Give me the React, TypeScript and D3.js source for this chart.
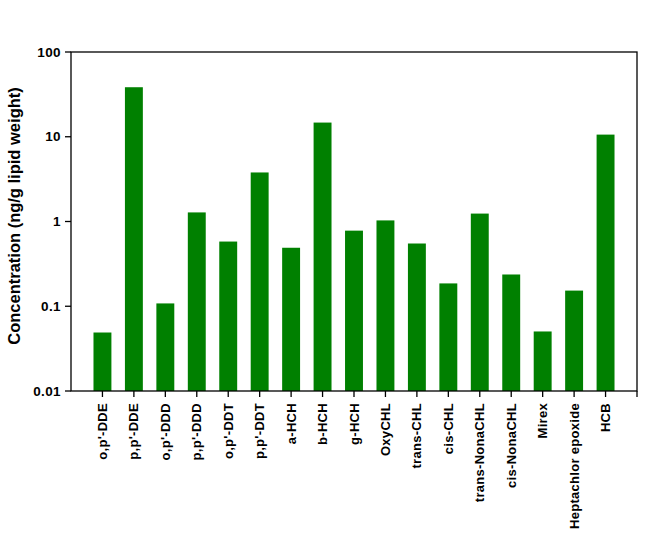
import React from "react";
import * as d3 from "d3";

const categories = [
  "o,p'-DDE", "p,p'-DDE", "o,p'-DDD", "p,p'-DDD", "o,p'-DDT", "p,p'-DDT",
  "a-HCH", "b-HCH", "g-HCH", "OxyCHL", "trans-CHL", "cis-CHL",
  "trans-NonaCHL", "cis-NonaCHL", "Mirex", "Heptachlor epoxide", "HCB",
];
const values = [0.049, 38.4, 0.108, 1.28, 0.58, 3.79, 0.49, 14.7, 0.78, 1.03, 0.55, 0.186, 1.24, 0.237, 0.0504, 0.153, 10.6];
const yTicks = [0.01, 0.1, 1, 10, 100];
const yTickLabels = ["0.01", "0.1", "1", "10", "100"];
const yLabel = "Concentration (ng/g lipid weight)";

const W = 664, H = 541;
const left = 71, right = 637, top = 52, bottom = 391;
const FONT = "'Liberation Sans', Arial, sans-serif";

export default function App() {
  const x = d3.scaleBand<string>().domain(categories).range([left, right]).paddingInner(0.43).paddingOuter(0.715);
  const y = d3.scaleLog().domain([0.01, 100]).range([bottom, top]);
  return (
    <svg width={W} height={H} style={{ position: "absolute", left: 0, top: 0, background: "#fff" }}>
      <rect x={0} y={0} width={W} height={H} fill="#fff" />
      {categories.map((c, i) => (
        <rect key={c} x={x(c)} y={y(values[i])} width={x.bandwidth()} height={bottom - y(values[i])} fill="#008000" />
      ))}
      <rect x={left} y={top} width={right - left} height={bottom - top} fill="none" stroke="#000" strokeWidth={1.3} />
      {yTicks.map((t, i) => (
        <g key={t}>
          <line x1={left - 6} x2={left} y1={y(t)} y2={y(t)} stroke="#000" strokeWidth={1.3} />
          <text x={61} y={y(t)} dy="0.35em" textAnchor="end" fontFamily={FONT} fontWeight="bold" fontSize={13.5} letterSpacing={0.4}>{yTickLabels[i]}</text>
        </g>
      ))}
      {categories.map((c) => {
        const cx = x(c)! + x.bandwidth() / 2;
        return (
          <g key={c}>
            <line x1={cx} x2={cx} y1={bottom} y2={bottom + 6} stroke="#000" strokeWidth={1.3} />
            <text transform={`translate(${cx},403) rotate(-90)`} dy="0.35em" textAnchor="end" fontFamily={FONT} fontWeight="bold" fontSize={13} letterSpacing={0.3}>{c}</text>
          </g>
        );
      })}
      <line x1={right} x2={right} y1={bottom} y2={bottom + 6} stroke="#000" strokeWidth={1.3} />
      <text transform={`translate(14,216) rotate(-90)`} dy="0.35em" textAnchor="middle" fontFamily={FONT} fontWeight="bold" fontSize={16.5}>{yLabel}</text>
    </svg>
  );
}
